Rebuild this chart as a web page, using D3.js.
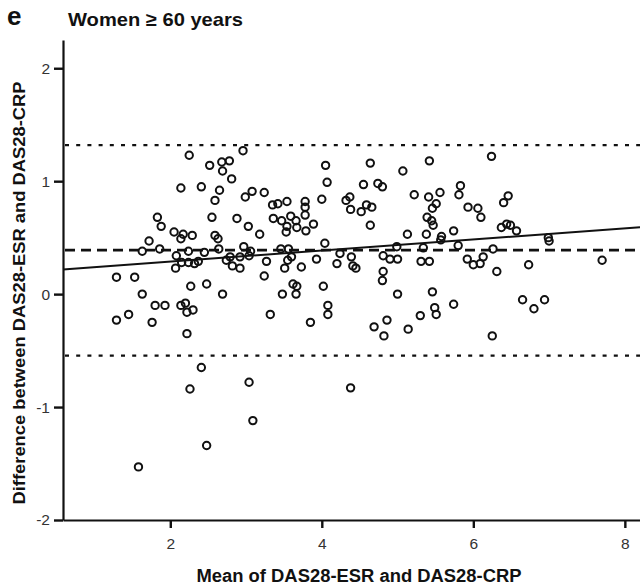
<!DOCTYPE html>
<html>
<head>
<meta charset="utf-8">
<script src="https://cdn.jsdelivr.net/npm/d3@7"></script>
<style>
  body { margin: 0; background: #fff; }
  svg { display: block; }
</style>
</head>
<body>
<div id="chart"></div>
<script>
// Bland-Altman plot: Women >= 60 years

// Mean of DAS28-ESR and DAS28-CRP (x) for each patient
const meanValues = [
  2.25, 2.96, 2.52, 2.68, 2.78, 2.69, 2.81, 2.14, 2.41, 2.65,
  3.08, 2.99, 2.59, 1.83, 2.55, 2.88, 1.88, 3.03, 2.05, 2.17,
  2.14, 2.29, 2.59, 2.63, 1.72, 1.63, 1.86, 2.24, 2.45, 2.64,
  2.97, 3.06, 2.08, 2.79, 3.04, 4.05, 4.64, 5.07, 5.42, 4.07,
  4.55, 4.74, 4.80, 3.24, 5.22, 5.56, 5.41, 3.35, 3.42, 3.54,
  3.78, 3.78, 4.00, 4.32, 4.37, 4.38, 4.52, 4.59, 4.66, 5.51,
  5.46, 3.36, 3.47, 3.59, 3.54, 3.53, 3.66, 3.67, 3.78, 3.89,
  3.79, 3.18, 4.64, 5.39, 5.45, 5.47, 5.13, 5.38, 5.58, 5.57,
  4.04, 4.99, 5.34, 3.46, 3.56, 4.24, 4.39, 4.81, 3.93, 3.27,
  3.55, 3.60, 5.00, 5.31, 5.42, 6.24, 5.83, 5.81, 6.46, 6.40,
  5.93, 6.06, 6.10, 6.37, 6.44, 6.49, 6.57, 5.74, 5.80, 6.26,
  6.99, 7.00, 5.92, 6.13, 7.70, 4.20, 4.41, 4.45, 4.90, 4.81,
  6.00, 6.09, 6.31, 6.73, 3.24, 2.92, 2.92, 2.07, 2.15, 2.24,
  2.32, 2.37, 2.74, 2.82, 1.29, 1.53, 2.27, 2.48, 1.63, 2.69,
  1.80, 1.93, 2.14, 2.20, 2.22, 2.30, 1.29, 1.45, 1.76, 2.22,
  2.41, 3.04, 2.26, 3.62, 3.67, 3.48, 3.66, 4.02, 4.80, 5.00,
  5.46, 3.32, 3.85, 4.08, 4.08, 4.69, 4.86, 4.82, 5.14, 5.30,
  5.49, 5.51, 4.38, 3.51, 3.73, 5.74, 6.65, 6.80, 6.94, 6.25,
  3.09, 2.48, 1.58
];

// Difference between DAS28-ESR and DAS28-CRP (y) for each patient
const diffValues = [
  1.23, 1.27, 1.14, 1.17, 1.18, 1.09, 1.02, 0.94, 0.95, 0.92,
  0.91, 0.86, 0.83, 0.68, 0.68, 0.67, 0.60, 0.60, 0.55, 0.53,
  0.49, 0.52, 0.52, 0.49, 0.47, 0.38, 0.40, 0.38, 0.37, 0.40,
  0.42, 0.38, 0.34, 0.33, 0.34, 1.14, 1.16, 1.09, 1.18, 0.99,
  0.97, 0.98, 0.95, 0.90, 0.88, 0.90, 0.86, 0.79, 0.80, 0.82,
  0.82, 0.77, 0.84, 0.83, 0.86, 0.75, 0.73, 0.79, 0.77, 0.80,
  0.76, 0.67, 0.65, 0.69, 0.60, 0.55, 0.65, 0.59, 0.70, 0.62,
  0.56, 0.53, 0.61, 0.68, 0.65, 0.61, 0.53, 0.53, 0.51, 0.48,
  0.45, 0.42, 0.41, 0.40, 0.40, 0.36, 0.33, 0.34, 0.31, 0.29,
  0.30, 0.33, 0.31, 0.29, 0.29, 1.22, 0.96, 0.88, 0.87, 0.81,
  0.77, 0.76, 0.68, 0.59, 0.62, 0.61, 0.56, 0.56, 0.43, 0.40,
  0.50, 0.47, 0.31, 0.33, 0.30, 0.27, 0.25, 0.23, 0.31, 0.20,
  0.26, 0.27, 0.20, 0.26, 0.16, 0.23, 0.33, 0.23, 0.28, 0.28,
  0.27, 0.29, 0.30, 0.25, 0.15, 0.15, 0.07, 0.09, 0.00, 0.00,
  -0.10, -0.10, -0.10, -0.08, -0.16, -0.14, -0.23, -0.18, -0.25, -0.35,
  -0.65, -0.78, -0.84, 0.09, 0.07, 0.00, 0.00, 0.07, 0.12, 0.00,
  0.02, -0.18, -0.25, -0.10, -0.18, -0.29, -0.23, -0.37, -0.31, -0.19,
  -0.12, -0.18, -0.83, 0.23, 0.24, -0.09, -0.05, -0.13, -0.05, -0.37,
  -1.12, -1.34, -1.53
];

// Mean difference (bias) and limits of agreement
const biasValue = 0.39;
const limitValues = [1.32, -0.545];

// Regression of difference on mean
const regIntercept = 0.19;
const regSlope = 0.049;

// Axis ticks and labels
const xTicks = [2, 4, 6, 8];
const yTicks = [-2, -1, 0, 1, 2];
const panelLetter = "e";
const panelTitle = "Women \u2265 60 years";
const xTitle = "Mean of DAS28-ESR and DAS28-CRP";
const yTitle = "Difference between DAS28-ESR and DAS28-CRP";

const width = 640;
const height = 586;
const plot = {left: 63, right: 640, top: 40, bottom: 520};

const svg = d3.select("#chart").append("svg")
  .attr("width", width)
  .attr("height", height)
  .style("font-family", "'Liberation Sans', Arial, sans-serif");

const x = d3.scaleLinear()
  .domain([0.584, 8.2])
  .range([plot.left, plot.right]);

const y = d3.scaleLinear()
  .domain([-2, 2.25])
  .range([plot.bottom, plot.top]);

// Limits of agreement (dotted)
svg.selectAll("line.limit")
  .data(limitValues)
  .enter().append("line")
  .attr("class", "limit")
  .attr("x1", plot.left + 2)
  .attr("x2", plot.right)
  .attr("y1", d => y(d))
  .attr("y2", d => y(d))
  .attr("stroke", "#111")
  .attr("stroke-width", 2.3)
  .attr("stroke-dasharray", "4,7.2");

// Bias line (dashed)
svg.append("line")
  .attr("x1", plot.left + 2)
  .attr("x2", plot.right)
  .attr("y1", y(biasValue))
  .attr("y2", y(biasValue))
  .attr("stroke", "#111")
  .attr("stroke-width", 2.8)
  .attr("stroke-dasharray", "10,6");

// Regression line
const xDom = x.domain();
svg.append("line")
  .attr("x1", x(xDom[0]))
  .attr("x2", x(xDom[1]))
  .attr("y1", y(regIntercept + regSlope * xDom[0]))
  .attr("y2", y(regIntercept + regSlope * xDom[1]))
  .attr("stroke", "#111")
  .attr("stroke-width", 2);

// Points
const points = meanValues.map((m, i) => ({mean: m, diff: diffValues[i]}));
svg.append("g")
  .selectAll("circle")
  .data(points)
  .enter().append("circle")
  .attr("cx", d => x(d.mean))
  .attr("cy", d => y(d.diff))
  .attr("r", 3.7)
  .attr("fill", "none")
  .attr("stroke", "#111")
  .attr("stroke-width", 2);

// X axis
const xAxis = svg.append("g")
  .attr("transform", `translate(0,${plot.bottom})`)
  .call(d3.axisBottom(x).tickValues(xTicks).tickFormat(d => String(d))
    .tickSize(8).tickPadding(10).tickSizeOuter(0));

// Y axis
const yAxis = svg.append("g")
  .attr("transform", `translate(${plot.left},0)`)
  .call(d3.axisLeft(y).tickValues(yTicks).tickFormat(d => String(d))
    .tickSize(9).tickPadding(4).tickSizeOuter(0));

[xAxis, yAxis].forEach(g => {
  g.select(".domain").attr("stroke", "#111").attr("stroke-width", 2.2);
  g.selectAll(".tick line").attr("stroke", "#111").attr("stroke-width", 2.4);
  g.selectAll(".tick text")
    .attr("fill", "#333")
    .style("font-size", "15.5px")
    .style("font-family", "'Liberation Sans', Arial, sans-serif");
});

// Titles
svg.append("text")
  .attr("x", 7)
  .attr("y", 25)
  .attr("font-size", "26px")
  .attr("font-weight", "bold")
  .attr("fill", "#111")
  .text(panelLetter);

svg.append("text")
  .attr("x", 68)
  .attr("y", 26)
  .attr("font-size", "19px")
  .attr("font-weight", "bold")
  .attr("fill", "#111")
  .attr("textLength", 175)
  .attr("lengthAdjust", "spacingAndGlyphs")
  .text(panelTitle);

svg.append("text")
  .attr("x", 359)
  .attr("y", 582)
  .attr("text-anchor", "middle")
  .attr("font-size", "17.5px")
  .attr("font-weight", "bold")
  .attr("fill", "#111")
  .attr("textLength", 325)
  .attr("lengthAdjust", "spacingAndGlyphs")
  .text(xTitle);

svg.append("text")
  .attr("transform", "translate(25,293) rotate(-90)")
  .attr("text-anchor", "middle")
  .attr("font-size", "17px")
  .attr("font-weight", "bold")
  .attr("fill", "#111")
  .attr("textLength", 423)
  .attr("lengthAdjust", "spacingAndGlyphs")
  .text(yTitle);
</script>
</body>
</html>
